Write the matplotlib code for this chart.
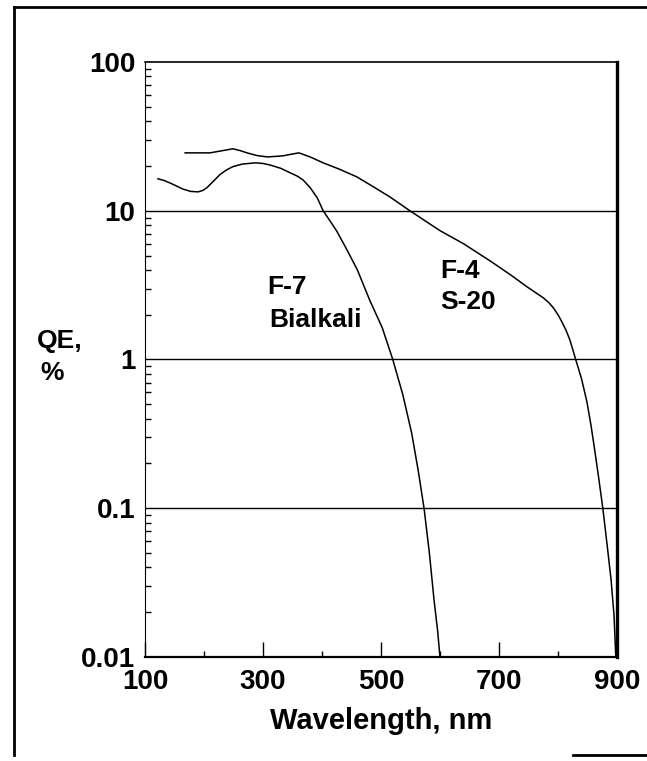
import matplotlib
matplotlib.use("Agg")
import matplotlib.pyplot as plt
import matplotlib.ticker as ticker
from matplotlib.lines import Line2D

plt.rcParams['font.family'] = ['Liberation Sans', 'DejaVu Sans']
plt.rcParams['font.weight'] = 'bold'

# F-4 / S-20 curve (wavelength nm, QE %)
s20_wl = [168, 210, 230, 249, 261, 273, 290, 308, 334, 348, 361, 380, 402,
          430, 459, 487, 515, 549, 600, 640, 685, 720, 747, 775, 785, 792,
          800, 807, 814, 820, 825, 830, 840, 849, 856, 862, 869, 876, 883,
          890, 895, 898]
s20_qe = [24.5, 24.5, 25.3, 26.1, 25.4, 24.5, 23.5, 23.0, 23.4, 24.0, 24.5,
          23.0, 21.0, 19.0, 16.9, 14.5, 12.4, 10.0, 7.35, 6.0, 4.6, 3.7,
          3.09, 2.6, 2.4, 2.23, 2.0, 1.78, 1.56, 1.36, 1.17, 1.0, 0.74, 0.52,
          0.36, 0.25, 0.16, 0.1, 0.058, 0.033, 0.019, 0.01]

# F-7 / Bialkali curve
bi_wl = [122, 132, 142, 153, 164, 177, 190, 198, 205, 216, 227, 238, 249,
         265, 287, 300, 312, 330, 346, 358, 368, 380, 392, 402, 414, 425,
         443, 460, 481, 502, 520, 537, 552, 563, 573, 582, 590, 596, 600]
bi_qe = [16.4, 16.0, 15.4, 14.7, 14.0, 13.5, 13.4, 13.7, 14.3, 15.8, 17.5,
         18.8, 19.8, 20.6, 21.0, 20.8, 20.3, 19.3, 18.0, 17.1, 16.1, 14.3,
         12.2, 10.0, 8.5, 7.3, 5.4, 4.0, 2.5, 1.64, 1.0, 0.58, 0.32, 0.18,
         0.1, 0.05, 0.024, 0.015, 0.01]

grid_vals = [10, 1, 0.1]
x_labels = [100, 300, 500, 700, 900]
y_labels = [0.01, 0.1, 1, 10, 100]

fig = plt.figure(figsize=(6.47, 7.61), dpi=100)
ax = fig.add_axes([0.2241, 0.1367, 0.7295, 0.7818])

ax.plot(s20_wl, s20_qe, color='black', lw=1.1)
ax.plot(bi_wl, bi_qe, color='black', lw=1.1)

for g in grid_vals:
    ax.axhline(g, color='black', lw=1.0)

ax.set_yscale('log')
ax.set_xlim(100, 900)
ax.set_ylim(0.01, 100)

ax.yaxis.set_major_locator(ticker.FixedLocator(y_labels))
ax.yaxis.set_major_formatter(ticker.FixedFormatter(['0.01', '0.1', '1', '10', '100']))
ax.yaxis.set_minor_locator(ticker.LogLocator(base=10, subs=range(2, 10)))
ax.yaxis.set_minor_formatter(ticker.NullFormatter())
ax.xaxis.set_major_locator(ticker.FixedLocator(x_labels))
ax.xaxis.set_minor_locator(ticker.MultipleLocator(100))

ax.tick_params(axis='y', which='major', direction='in', length=0, pad=7,
               labelsize=20)
ax.tick_params(axis='y', which='minor', direction='in', length=4, width=1)
ax.tick_params(axis='x', which='major', direction='in', length=11, width=1,
               pad=9, labelsize=20)
ax.tick_params(axis='x', which='minor', direction='in', length=4, width=1)
for lab in ax.get_xticklabels() + ax.get_yticklabels():
    lab.set_fontweight('bold')

ax.spines['left'].set_linewidth(0.8)
ax.spines['left'].set_linestyle((0, (6, 1)))
ax.spines['bottom'].set_linewidth(1.6)
ax.spines['top'].set_linewidth(1.2)
ax.spines['right'].set_linewidth(2.4)

ax.set_xlabel('Wavelength, nm', fontsize=21, fontweight='bold', labelpad=8)

fig.text(0.057, 0.552, 'QE,', fontsize=19, fontweight='bold', ha='left', va='center')
fig.text(0.062, 0.510, '%', fontsize=19, fontweight='bold', ha='left', va='center')

ax.text(308, 3.09, 'F-7', fontsize=19, fontweight='bold', ha='left', va='center')
ax.text(310, 1.85, 'Bialkali', fontsize=19, fontweight='bold', ha='left',
        va='center')
ax.text(600, 3.95, 'F-4', fontsize=19, fontweight='bold', ha='left', va='center')
ax.text(600, 2.45, 'S-20', fontsize=19, fontweight='bold', ha='left', va='center')

# scanned page frame
fig.add_artist(Line2D([0.022, 0.022], [0.008, 0.991], color='black', lw=2.0,
                      transform=fig.transFigure))
fig.add_artist(Line2D([0.022, 1.0], [0.991, 0.991], color='black', lw=2.0,
                      transform=fig.transFigure))
fig.add_artist(Line2D([0.885, 1.0], [0.008, 0.008], color='black', lw=2.0,
                      transform=fig.transFigure))

fig.savefig('out.png', dpi=100)
